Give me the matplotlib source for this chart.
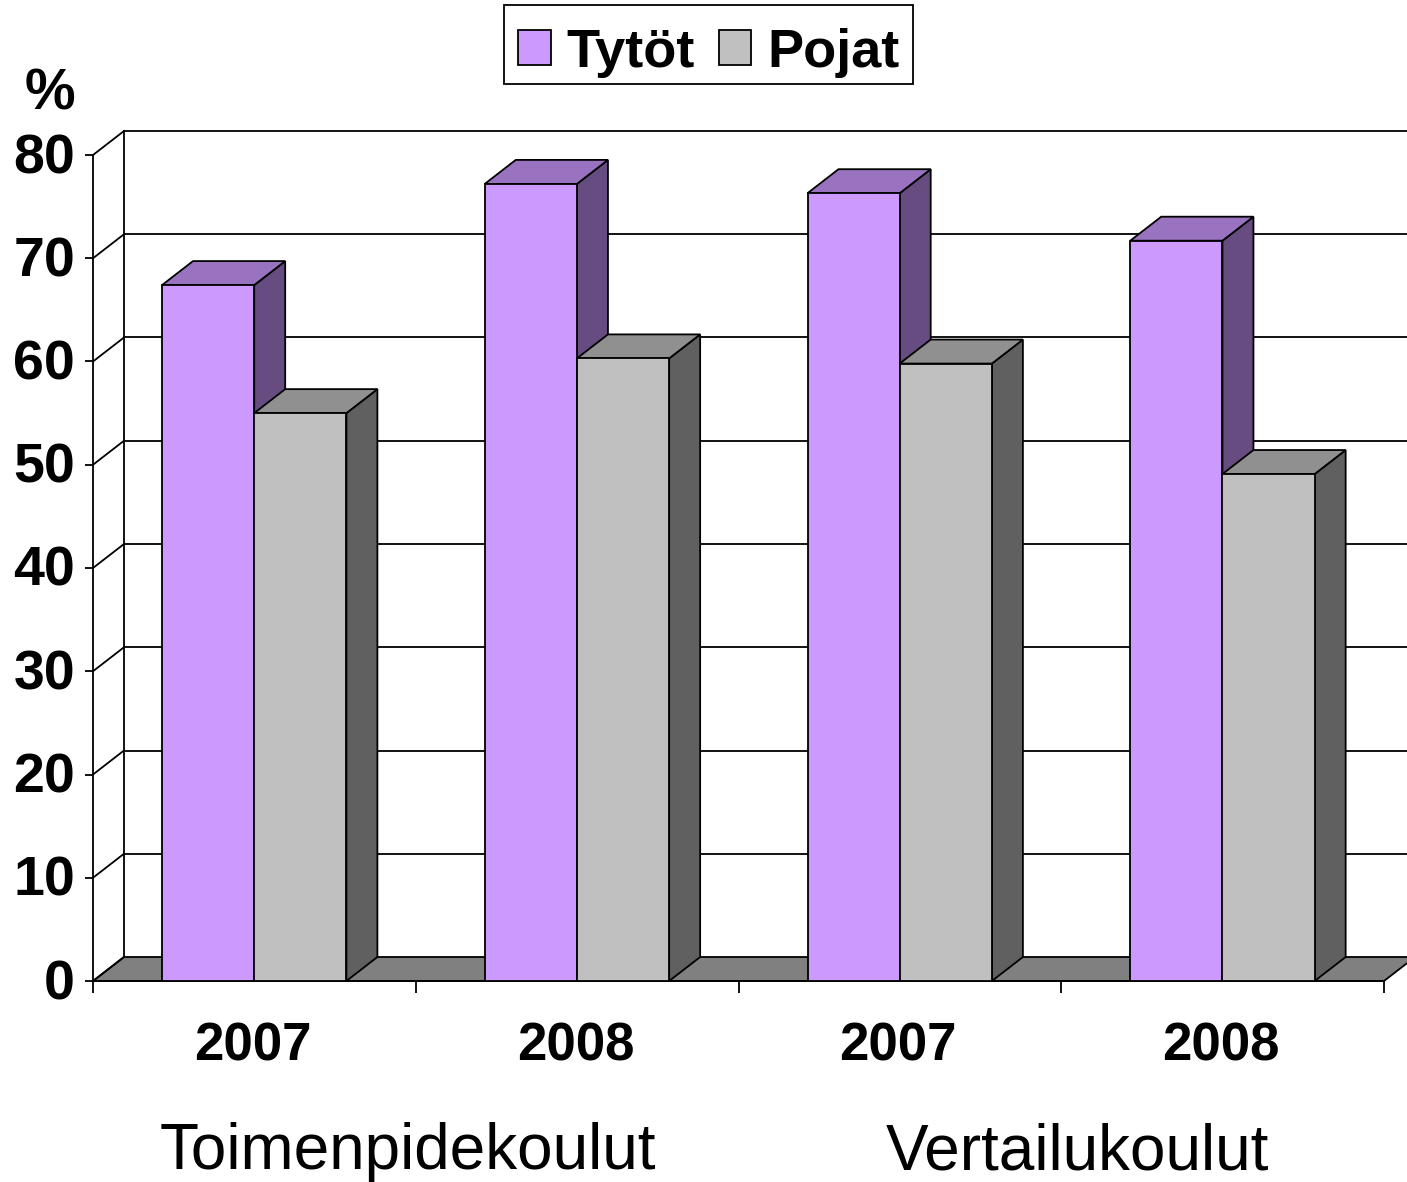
import matplotlib
matplotlib.use('Agg')
import matplotlib.pyplot as plt
from matplotlib.patches import Polygon, Rectangle
from matplotlib.transforms import ScaledTranslation

plt.rcParams['font.family'] = ['Liberation Sans', 'DejaVu Sans']

years = ['2007', '2008', '2007', '2008']
groups = ['Toimenpidekoulut', 'Vertailukoulut']
tytot = [67.4, 77.2, 76.3, 71.7]
pojat = [55.0, 60.3, 59.8, 49.1]
yticks = [0, 10, 20, 30, 40, 50, 60, 70, 80]

# pixel layout of the reference, plot box is x 93-1384, y 155-981
W, H = 1407, 1182
left, right, top, bottom = 93, 1384, 155, 981
px_x = (right - left) / 4.0      # one category in px
px_y = (bottom - top) / 80.0     # one percent in px
dx = 31 / px_x   # depth of the fake 3d
dy = 24 / px_y
bar_w = 92.2 / px_x
bar_off = 69 / px_x

PURPLE = ('#CC99FF', '#9973BF', '#664C80')
GREY = ('#C0C0C0', '#909090', '#606060')
FLOOR = '#808080'


def bar3d(ax, x, v, cols):
    # side, top, then front
    side = [(x + bar_w, 0), (x + bar_w + dx, dy), (x + bar_w + dx, v + dy), (x + bar_w, v)]
    lid = [(x, v), (x + dx, v + dy), (x + bar_w + dx, v + dy), (x + bar_w, v)]
    ax.add_patch(Polygon(side, fc=cols[2], ec='k', lw=1.3, zorder=3, clip_on=False))
    ax.add_patch(Polygon(lid, fc=cols[1], ec='k', lw=1.3, zorder=3, clip_on=False))
    ax.add_patch(Rectangle((x, 0), bar_w, v, fc=cols[0], ec='k', lw=1.3, zorder=3, clip_on=False))


fig = plt.figure(figsize=(W / 100, H / 100), dpi=100)
ax = fig.add_axes([left / W, 1 - bottom / H, (right - left) / W, (bottom - top) / H])
ax.set_xlim(0, 4)
ax.set_ylim(0, 80)
ax.patch.set_visible(False)

# floor and back wall
ax.add_patch(Polygon([(0, 0), (dx, dy), (4 + dx, dy), (4, 0)], fc=FLOOR, ec='k', lw=1.3,
                     zorder=1, clip_on=False))
for t in yticks:
    if t > 0:
        ax.plot([dx, 4 + dx], [t + dy, t + dy], color='k', lw=1.3, zorder=1, clip_on=False)
    ax.plot([0, dx], [t, t + dy], color='k', lw=1.3, zorder=1, clip_on=False)
ax.plot([dx, dx], [dy, 80 + dy], color='k', lw=1.3, zorder=1, clip_on=False)

for i in range(len(years)):
    bar3d(ax, i + bar_off, tytot[i], PURPLE)
    bar3d(ax, i + bar_off + bar_w, pojat[i], GREY)

ax.spines['top'].set_visible(False)
ax.spines['right'].set_visible(False)
ax.spines['left'].set_linewidth(1.3)
ax.spines['bottom'].set_linewidth(1.3)
ax.set_yticks(yticks)
ax.set_xticks(range(5))
ax.set_xticklabels([])
ax.set_xticks([i + 0.495 for i in range(4)], minor=True)
ax.set_xticklabels(years, minor=True, fontsize=38, fontweight='bold')
ax.tick_params(axis='x', which='major', length=8.5, width=1.3)
ax.tick_params(axis='x', which='minor', length=0, pad=29)
ax.tick_params(axis='y', length=5.5, width=1.3, labelsize=40, pad=7.5)
# y labels sit about 2 px higher in the reference
up = ScaledTranslation(0, 2 / 100, fig.dpi_scale_trans)
for lab in ax.get_yticklabels():
    lab.set_fontweight('bold')
    lab.set_transform(lab.get_transform() + up)

ax.text(0.976, -16.6, groups[0], fontsize=46, ha='center', va='center')
ax.text(3.05, -16.6, groups[1], fontsize=46, ha='center', va='center')
fig.text(50 / W, 1 - 94 / H, '%', fontsize=41, fontweight='bold', ha='center', va='center')

# legend frame drawn apart so the entries can sit low in the box like the reference
fig.add_artist(Rectangle((503.5 / W, 1 - 84 / H), 409 / W, 79 / H, transform=fig.transFigure,
                         fc='white', ec='k', lw=1.3))
handles = [Rectangle((0, 0), 1, 1, fc=PURPLE[0], ec='k', lw=1.3),
           Rectangle((0, 0), 1, 1, fc=GREY[0], ec='k', lw=1.3)]
leg = fig.legend(handles, ['Tytöt', 'Pojat'], loc='center', ncol=2,
                 bbox_to_anchor=(709 / W, 1 - 52.5 / H),
                 prop={'size': 39, 'weight': 'bold'}, frameon=False,
                 handlelength=0.6, handleheight=0.6, handletextpad=0.3,
                 columnspacing=0.44, borderpad=0, borderaxespad=0)

fig.savefig('out.png', dpi=100)
